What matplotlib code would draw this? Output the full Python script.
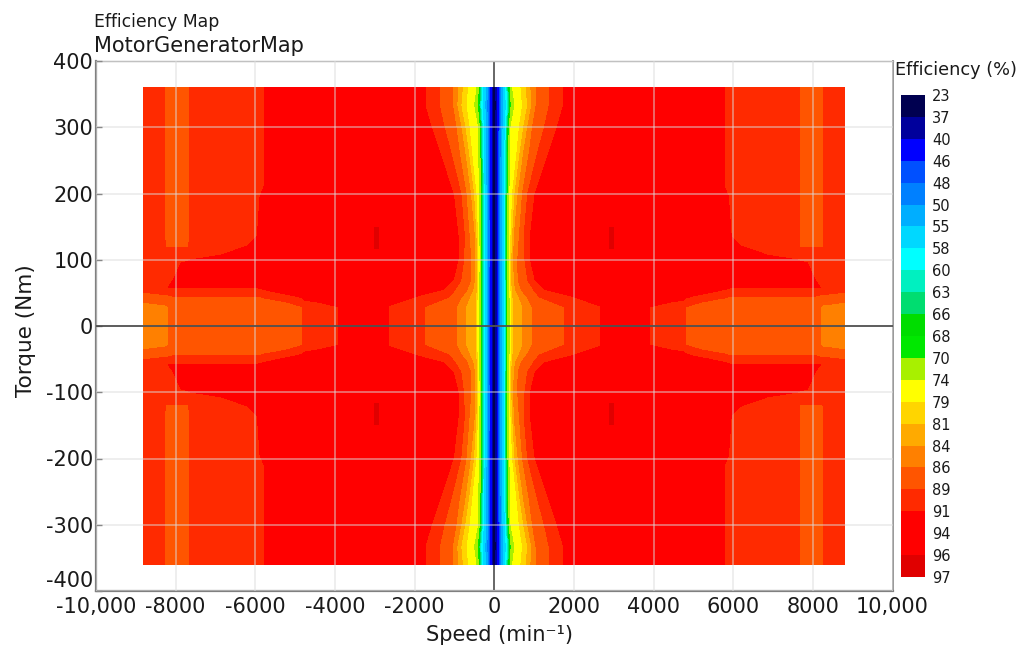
"""
Efficiency map of a motor/generator, speed vs torque
"""
import numpy as np
import matplotlib
matplotlib.use('Agg')
import matplotlib.pyplot as plt
from matplotlib.colors import ListedColormap, BoundaryNorm

plt.rcParams['axes.unicode_minus'] = False

            #### COLOUR SCALE ####

level_labels = [23, 37, 40, 46, 48, 50, 55, 58, 60, 63, 66, 68,
                70, 74, 79, 81, 84, 86, 89, 91, 94, 96, 97]
band_colors = ['#000050', '#00009c', '#0000ff', '#0050ff', '#0080ff', '#00aeff',
               '#00d8ff', '#00ffff', '#00f0c0', '#00dd70', '#00dd00', '#00e800',
               '#a8f000', '#ffff00', '#ffd500', '#ffaa00', '#ff8000', '#ff5500',
               '#ff2a00', '#ff0000', '#ff0000', '#e00000']

            #### CENTRE OF THE MAP ####
# speed (min-1) where each efficiency level is reached, one row per torque

centre_levels = [23, 37, 40, 46, 48, 50, 55, 58, 60, 63, 66, 68, 70, 74, 79, 81, 84, 86, 89, 91]
centre_torque = [0, 29, 44, 54, 69, 100, 136, 200, 262, 300, 333, 360]
centre_speed = [
    [0, 40, 75, 110, 135, 165, 205, 250, 275, 295, 315, 325, 345, 400, 440, 480, 720, 950, 1760, 2640],
    [0, 40, 75, 110, 135, 165, 205, 250, 275, 295, 315, 325, 345, 400, 440, 480, 720, 950, 1760, 2640],
    [0, 40, 75, 110, 135, 165, 205, 250, 275, 295, 315, 325, 345, 395, 430, 470, 620, 820, 1130, 1900],
    [0, 40, 75, 110, 135, 165, 205, 250, 275, 295, 315, 325, 345, 390, 420, 450, 540, 690, 1000, 1250],
    [0, 40, 75, 110, 135, 165, 205, 250, 275, 295, 315, 325, 340, 385, 415, 440, 500, 600, 840, 1000],
    [0, 40, 75, 110, 130, 160, 200, 245, 270, 290, 310, 320, 335, 380, 410, 440, 490, 590, 770, 880],
    [0, 40, 75, 110, 130, 160, 200, 245, 270, 290, 310, 320, 335, 385, 420, 460, 500, 630, 750, 880],
    [0, 40, 75, 110, 135, 165, 205, 255, 275, 295, 320, 330, 345, 390, 460, 520, 600, 710, 840, 1000],
    [0, 40, 75, 115, 140, 170, 215, 265, 290, 310, 335, 345, 360, 420, 570, 650, 740, 880, 1090, 1340],
    [0, 40, 80, 120, 145, 175, 220, 275, 300, 320, 345, 355, 375, 420, 630, 740, 840, 960, 1260, 1550],
    [0, 45, 80, 125, 150, 185, 235, 300, 340, 365, 385, 400, 425, 520, 710, 840, 940, 1050, 1380, 1710],
    [0, 40, 80, 120, 145, 175, 225, 285, 315, 340, 365, 385, 400, 460, 670, 800, 920, 1050, 1380, 1710],
]

            #### REST OF THE MAP ####

R = 92.5    # red
P = 90.0    # orange red
Q = 87.5    # dark orange
O = 85.0    # orange

outer_speed = [0, 3850, 3900, 4750, 4800, 5780, 5880, 5950, 6180,
               6850, 7640, 7680, 7860, 8060, 8190, 8250, 8290, 8800]
outer_torque = [0, 29, 36, 42, 45, 51, 58, 69, 95, 107, 121, 135, 195, 210, 360]
outer_eff = [
    [R, R, 91.01, P, 89.01, Q, Q, Q, Q, Q, Q, Q, Q, Q, 86.01, O, O, O],
    [R, R, 91.01, P, 89.01, Q, Q, Q, Q, Q, Q, Q, Q, Q, 86.01, O, O, O],
    [R, R, R, P, P, Q, Q, Q, Q, Q, Q, Q, Q, Q, Q, Q, Q, 86.01],
    [R, R, R, 92, 91.01, 88.9, Q, Q, Q, Q, Q, Q, Q, Q, Q, Q, Q, Q],
    [R, R, R, R, 91.2, P, 89.4, 89.01, 89.01, 89.01, 89.01, 89.01, 89.01, 89.01, 88.5, 88.4, 88.3, Q],
    [R, R, R, R, R, 90.3, P, P, P, P, P, P, P, P, P, P, P, 89.01],
    [R, R, R, R, R, 91.5, 91.2, 91.01, 91.01, 91.01, 91.01, 91.01, 91.01, 91.01, 91.01, P, P, P],
    [R, R, R, R, R, R, R, R, R, R, R, R, R, 91.01, P, P, P, P],
    [R, R, R, R, R, R, R, R, R, R, 91.6, 91.3, 91.01, P, P, P, P, P],
    [R, R, R, R, R, R, R, R, R, 91.01, P, P, P, P, P, P, P, P],
    [R, R, R, R, R, R, R, R, 91.01, P, P, 88.7, 88.7, 88.7, 88.7, 88.7, P, P],
    [R, R, R, R, R, R, R, 91.01, P, P, P, Q, Q, Q, Q, Q, P, P],
    [R, R, R, R, R, R, 91.01, P, P, P, P, Q, Q, Q, Q, Q, P, P],
    [R, R, R, R, R, 91.01, P, P, P, P, P, Q, Q, Q, Q, Q, P, P],
    [R, R, R, R, R, 91.01, P, P, P, P, P, Q, Q, Q, Q, Q, P, P],
]

# small darker patch near 3000 min-1
peak_speed = [2880, 2900, 3000, 3020]
peak_torque = [115, 118, 148, 151]
peak_eff = [
    [R, R, R, R],
    [R, 96.6, 96.6, R],
    [R, 96.6, 96.6, R],
    [R, R, R, R],
]

            #### AXIS TICKS ####

speed_ticks = [-10000, -8000, -6000, -4000, -2000, 0, 2000, 4000, 6000, 8000, 10000]
speed_labels = ['-10,000', '-8000', '-6000', '-4000', '-2000', '0',
                '2000', '4000', '6000', '8000', '10,000']
torque_ticks = [-400, -300, -200, -100, 0, 100, 200, 300, 400]

            #### FIGURE ####

W, H = 1033, 646
fig = plt.figure(figsize=(W/100, H/100), dpi=100)
ax = fig.add_axes([96/W, 1-591/H, (892.5-96)/W, (591-61)/H])
cax = fig.add_axes([901/W, 1-577/H, 24/W, 482/H])

text_col = '#1a1a1a'

# build the curved grid of the centre
cen_x = np.array(centre_speed, dtype=float)
cen_y = np.tile(np.array(centre_torque, dtype=float)[:, None], (1, cen_x.shape[1]))
cen_z = np.tile(np.array(centre_levels, dtype=float), (cen_x.shape[0], 1))

# the map is the same in all four quadrants
for sx in (1, -1):
    for sy in (1, -1):
        ax.contourf(sx*np.array(outer_speed), sy*np.array(outer_torque), np.array(outer_eff),
                    levels=level_labels, colors=band_colors, zorder=1)
        ax.contourf(sx*np.array(peak_speed), sy*np.array(peak_torque), np.array(peak_eff),
                    levels=level_labels, colors=band_colors, zorder=1.1)
        ax.contourf(sx*cen_x, sy*cen_y, cen_z,
                    levels=level_labels, colors=band_colors, zorder=1.2)

ax.set_xlim(-10000, 10000)
ax.set_ylim(-400, 400)
ax.set_xticks(speed_ticks)
ax.set_xticklabels(speed_labels)
ax.set_yticks(torque_ticks)

ax.set_axisbelow(False)
ax.grid(True, color='#dcdcdc', alpha=0.6, linewidth=1.1, zorder=2)
ax.xaxis.get_gridlines()[speed_ticks.index(0)].set_visible(False)   # no grid over the centre stripe
ax.axhline(0, color='#444444', linewidth=1.2, zorder=3)
ax.axvline(0, color='#666666', linewidth=1.4, zorder=0.5)   # hidden by the map

ax.tick_params(axis='x', length=0, pad=4, labelsize=15, labelcolor=text_col)
ax.tick_params(axis='y', direction='in', length=4, width=1, color='#888888',
               pad=2, labelsize=15, labelcolor=text_col)
ax.get_yticklabels()[0].set_va('bottom')    # keep clear of the x labels
ax.spines['left'].set_color('#808080')
ax.spines['bottom'].set_color('#808080')
ax.spines['right'].set_color('#999999')
ax.spines['top'].set_color('#aaaaaa')
ax.spines['left'].set_linewidth(1.6)
ax.spines['bottom'].set_linewidth(1.6)
ax.spines['right'].set_linewidth(1.4)
ax.spines['top'].set_linewidth(1.0)

fig.text(500/W, 1-635/H, 'Speed (min\u207b\u00b9)', fontsize=15, color=text_col, ha='center', va='center')
fig.text(26/W, 1-331/H, 'Torque (Nm)', fontsize=15.5, color=text_col, rotation=90, ha='center', va='center')
fig.text(94/W, 1-22/H, 'Efficiency Map', fontsize=12.4, color=text_col, ha='left', va='center')
fig.text(94/W, 1-46/H, 'MotorGeneratorMap', fontsize=15, color=text_col, ha='left', va='center')
fig.text(895/W, 1-70/H, 'Efficiency (%)', fontsize=12.8, color=text_col, ha='left', va='center')

            #### COLOUR BAR ####

n_band = len(band_colors)
edges = np.arange(n_band+1)
cmap = ListedColormap(band_colors)
norm = BoundaryNorm(edges, cmap.N)
cax.pcolormesh([0, 1], edges, np.arange(n_band)[:, None]+0.5, cmap=cmap, norm=norm)
cax.set_ylim(n_band, 0)
cax.set_xticks([])
cax.yaxis.tick_right()
cax.set_yticks(edges)
cax.set_yticklabels(level_labels)
cax.tick_params(axis='y', length=0, pad=5, labelsize=10.5, labelcolor=text_col)
for side in cax.spines.values():
    side.set_visible(False)

plt.savefig('out.png', dpi=100)
plt.close()
